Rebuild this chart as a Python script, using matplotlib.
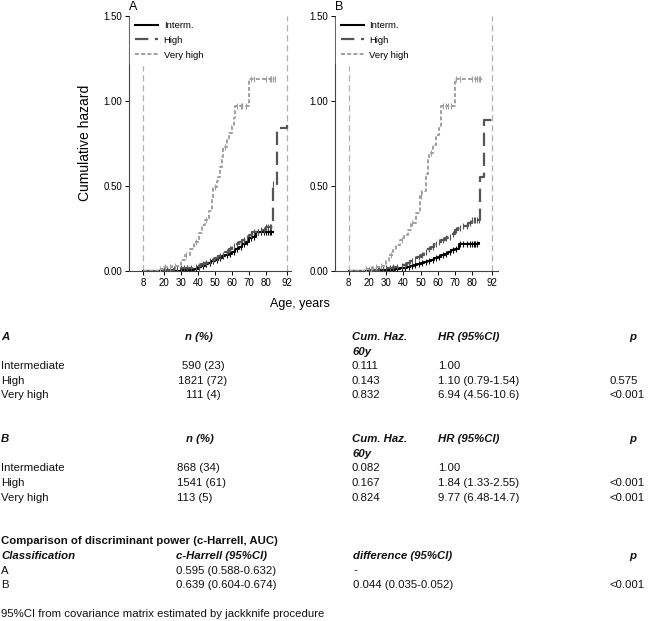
import numpy as np
import matplotlib
matplotlib.use("Agg")
import matplotlib.pyplot as plt

plt.rcParams['font.family'] = ['Liberation Sans', 'DejaVu Sans']

# cumulative hazard curves, panel A
a_int_t = [8, 30, 35, 38, 40, 42, 44, 46, 48, 50, 52, 54, 56, 58, 60, 62, 64, 66, 68, 70, 72, 74, 84]
a_int_v = [0, 0.003, 0.006, 0.012, 0.02, 0.03, 0.037, 0.045, 0.055, 0.065, 0.075, 0.085, 0.095,
           0.10, 0.111, 0.125, 0.14, 0.155, 0.17, 0.19, 0.20, 0.225, 0.23]
a_high_t = [8, 18, 22, 26, 30, 34, 37, 40, 42, 44, 46, 48, 50, 52, 54, 56, 58, 60, 62, 64, 66, 68,
            70, 72, 76, 80, 84, 86.5, 92]
a_high_v = [0, 0.003, 0.006, 0.01, 0.013, 0.017, 0.022, 0.03, 0.038, 0.046, 0.055, 0.065, 0.075,
            0.085, 0.095, 0.108, 0.125, 0.143, 0.155, 0.168, 0.18, 0.195, 0.21, 0.225, 0.24, 0.26,
            0.51, 0.84, 0.855]
a_vh_t = [8, 17, 20, 25, 30, 32.5, 35.5, 38, 40.5, 42.5, 44.3, 46.3, 48.2, 49.2, 51, 52, 53, 54,
          55, 57, 58.3, 60, 61, 62, 70, 86]
a_vh_v = [0, 0.012, 0.02, 0.025, 0.065, 0.094, 0.13, 0.17, 0.22, 0.27, 0.30, 0.35, 0.42, 0.49,
          0.53, 0.55, 0.61, 0.67, 0.73, 0.77, 0.81, 0.85, 0.90, 0.97, 1.13, 1.13]

# panel B
b_int_t = [8, 25, 30, 35, 38, 40, 42, 44, 46, 48, 50, 52, 54, 56, 58, 60, 62, 64, 66, 68, 70, 72.5, 84]
b_int_v = [0, 0.003, 0.006, 0.01, 0.014, 0.018, 0.022, 0.027, 0.032, 0.038, 0.045, 0.052, 0.058,
           0.065, 0.072, 0.082, 0.092, 0.10, 0.11, 0.12, 0.13, 0.16, 0.165]
b_high_t = [8, 18, 22, 26, 30, 34, 37, 40, 42, 44, 46, 48, 50, 52, 54, 56, 58, 60, 62, 64, 66, 68,
            70, 72, 75, 78, 80, 84.7, 87.3, 92]
b_high_v = [0, 0.003, 0.007, 0.011, 0.015, 0.02, 0.027, 0.035, 0.045, 0.055, 0.068, 0.08, 0.095,
            0.11, 0.125, 0.14, 0.155, 0.167, 0.18, 0.19, 0.20, 0.215, 0.24, 0.25, 0.265, 0.28,
            0.30, 0.55, 0.885, 0.90]
b_vh_t = [8, 17, 22, 26, 29.8, 31.8, 34, 35.7, 38, 40.6, 42.5, 44.5, 47.5, 49.4, 51, 53, 54.3, 55,
          57, 59.2, 61, 62, 70, 86]
b_vh_v = [0, 0.01, 0.02, 0.03, 0.055, 0.09, 0.12, 0.15, 0.18, 0.21, 0.24, 0.28, 0.34, 0.44, 0.47,
          0.57, 0.65, 0.69, 0.74, 0.80, 0.84, 0.97, 1.13, 1.13]

# censoring times
low_cens = [20, 22, 24, 26, 28, 30, 32, 34, 36, 39, 41, 43, 45, 47, 49, 51, 53, 55, 57, 59, 61,
            63, 65, 67, 69, 71, 73, 75, 77, 79, 80, 81, 82, 83, 84]
vh_cens = [18, 21, 24, 27, 33, 39, 45, 50, 56, 63, 65, 66, 68, 71, 73, 80, 82, 83, 84, 85, 86]

x_ticks = [8, 20, 30, 40, 50, 60, 70, 80, 92]
y_ticks = [0, 0.5, 1.0, 1.5]
legend_labels = ["Interm.", "High", "Very high"]

styles = [dict(color="black", lw=1.5, ls="-"),
          dict(color="#555555", lw=1.6, ls=(0, (6, 3))),
          dict(color="#a0a0a0", lw=1.4, ls=(0, (2, 1.2)))]

fig = plt.figure(figsize=(6.5, 6.21), dpi=100)
W, H = 650.0, 621.0


def step_at(t, v, c):
    i = np.searchsorted(t, c, side="right") - 1
    return np.array(v)[i]


def panel(left_px, xmax, curves, letter):
    ax = fig.add_axes([left_px / W, (H - 270.7) / H, (xmax * 1.711) / W, 255 / H])
    for x in (8, 92):
        ax.axvline(x, color="#b0b0b0", lw=0.9, ls=(0, (5, 3)), zorder=1)
    handles = []
    for (t, v, cens), st, lab in zip(curves, styles, legend_labels):
        h, = ax.step(t, v, where="post", label=lab, zorder=3, **st)
        handles.append(h)
        cens = [c for c in cens if t[0] < c < t[-1]]
        ax.plot(cens, step_at(t, v, cens), ls="none", marker="|", ms=4.5, mew=0.8,
                color=st["color"], zorder=3)
    ax.set_xlim(0, xmax)
    ax.set_ylim(0, 1.5)
    ax.set_xticks(x_ticks)
    ax.set_yticks(y_ticks)
    ax.set_yticklabels(["%.2f" % y for y in y_ticks])
    ax.tick_params(labelsize=7, length=3, width=0.7, pad=2)
    for s in ("top", "right"):
        ax.spines[s].set_visible(False)
    for s in ("left", "bottom"):
        ax.spines[s].set_linewidth(0.8)
        ax.spines[s].set_color("#444444")
    leg = ax.legend(handles=handles, loc="upper left", fontsize=6.8, frameon=True,
                    handlelength=2.4, handletextpad=0.6, borderaxespad=0.0,
                    labelspacing=0.62, borderpad=0.55, bbox_to_anchor=(0.005, 1.0))
    leg.get_frame().set_edgecolor("white")
    leg.get_frame().set_alpha(1)
    leg.set_zorder(5)
    ax.text(0.0, 1.01, letter, transform=ax.transAxes, fontsize=9, ha="left", va="bottom")
    return ax


axA = panel(129.3, 94.5, [(a_int_t, a_int_v, low_cens), (a_high_t, a_high_v, low_cens),
                          (a_vh_t, a_vh_v, vh_cens)], "A")
axB = panel(335.0, 95.0, [(b_int_t, b_int_v, low_cens), (b_high_t, b_high_v, low_cens),
                          (b_vh_t, b_vh_v, vh_cens)], "B")
axA.set_ylabel("Cumulative hazard", fontsize=10, labelpad=8)
fig.text(300 / W, 1 - 304 / H, "Age, years", fontsize=9, ha="center", va="center")

# table data
groups = ["Intermediate", "High", "Very high"]
a_n = ["590 (23)", "1821 (72)", "111 (4)"]
a_ch = ["0.111", "0.143", "0.832"]
a_hr = ["1.00", "1.10 (0.79-1.54)", "6.94 (4.56-10.6)"]
a_p = ["", "0.575", "<0.001"]
b_n = ["868 (34)", "1541 (61)", "113 (5)"]
b_ch = ["0.082", "0.167", "0.824"]
b_hr = ["1.00", "1.84 (1.33-2.55)", "9.77 (6.48-14.7)"]
b_p = ["", "<0.001", "<0.001"]
cmp_cls = ["A", "B"]
cmp_c = ["0.595 (0.588-0.632)", "0.639 (0.604-0.674)"]
cmp_d = ["-", "0.044 (0.035-0.052)"]
cmp_p = ["", "<0.001"]

FS = 8.2
LINE = 14.6


def put(xpx, line, s, ha="left", bold=False, italic=False):
    fig.text(xpx / W, 1 - (337 + line * LINE) / H, s, fontsize=FS, ha=ha, va="center",
             fontweight="bold" if bold else "normal",
             fontstyle="italic" if italic else "normal", color="#111111")


def block(start, name, n, ch, hr, p, n_center):
    put(1, start, name, bold=True, italic=True)
    if n_center:
        put(199, start, "n (%)", ha="center", bold=True, italic=True)
    else:
        put(186, start, "n (%)", bold=True, italic=True)
    put(352, start, "Cum. Haz.", bold=True, italic=True)
    put(352, start + 1, "60y", bold=True, italic=True)
    put(438, start, "HR (95%CI)", bold=True, italic=True)
    put(633, start, "p", ha="center", bold=True, italic=True)
    for i in range(3):
        put(1, start + 2 + i, groups[i])
        if n_center:
            put(203, start + 2 + i, n[i], ha="center")
        else:
            put(177, start + 2 + i, n[i])
        put(352, start + 2 + i, ch[i])
        put(438, start + 2 + i, hr[i])
        put(610, start + 2 + i, p[i])


block(0, "A", a_n, a_ch, a_hr, a_p, True)
block(7, "B", b_n, b_ch, b_hr, b_p, False)

put(1, 14, "Comparison of discriminant power (c-Harrell, AUC)", bold=True)
put(1, 15, "Classification", bold=True, italic=True)
put(176, 15, "c-Harrell (95%CI)", bold=True, italic=True)
put(353, 15, "difference (95%CI)", bold=True, italic=True)
put(633, 15, "p", ha="center", bold=True, italic=True)
for i in range(2):
    put(1, 16 + i, cmp_cls[i])
    put(176, 16 + i, cmp_c[i])
    put(353, 16 + i, cmp_d[i])
    put(610, 16 + i, cmp_p[i])
put(1, 19, "95%CI from covariance matrix estimated by jackknife procedure")

fig.savefig("out.png", dpi=100)
